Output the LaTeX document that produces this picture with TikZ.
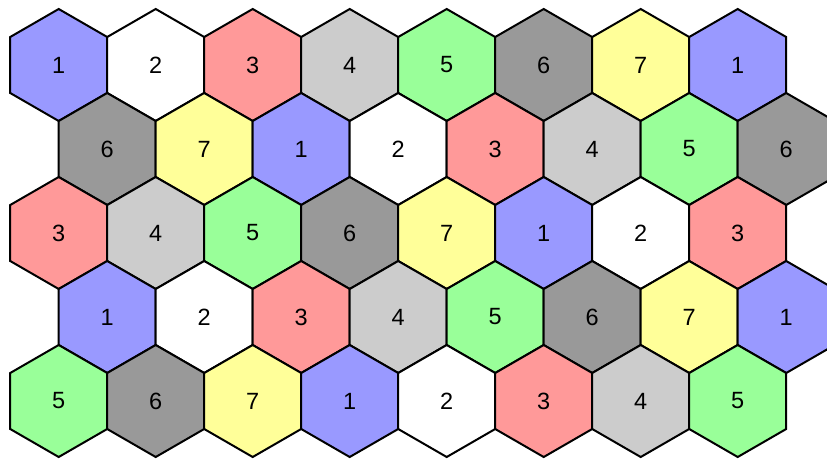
\documentclass[tikz,border=0pt]{standalone}
\usepackage{fontspec}
\setmainfont{Liberation Sans}
\definecolor{c1}{HTML}{9999FF}
\definecolor{c2}{HTML}{FFFFFF}
\definecolor{c3}{HTML}{FF9999}
\definecolor{c4}{HTML}{CCCCCC}
\definecolor{c5}{HTML}{99FF99}
\definecolor{c6}{HTML}{999999}
\definecolor{c7}{HTML}{FFFF99}
\tikzset{
  hexcell/.style={draw=black, line width=2pt, line join=miter},
  hexlabel/.style={inner sep=0pt, font=\fontsize{23.5}{28}\selectfont, text=black}
}
\begin{document}
\begin{tikzpicture}[x=1pt,y=1pt]
\useasboundingbox (0,0) rectangle (827,-458);
\clip (0,0) rectangle (827,-458);
\foreach \r/\list in {0/{1,2,3,4,5,6,7,1},1/{6,7,1,2,3,4,5,6},2/{3,4,5,6,7,1,2,3},3/{1,2,3,4,5,6,7,1},4/{5,6,7,1,2,3,4,5}}{
  \foreach \n [count=\i from 0] in \list {
    \pgfmathsetmacro{\cx}{58.7+97*\i+48.5*mod(\r,2)}
    \pgfmathsetmacro{\cy}{-(65+84*\r)}
    \filldraw[hexcell, fill=c\n] (\cx,\cy) +(30:56) -- +(90:56) -- +(150:56) -- +(210:56) -- +(270:56) -- +(330:56) -- cycle;
    \node[hexlabel] (h\r-\i) at (\cx,\cy) {\n};
  }
}
\end{tikzpicture}
\end{document}
